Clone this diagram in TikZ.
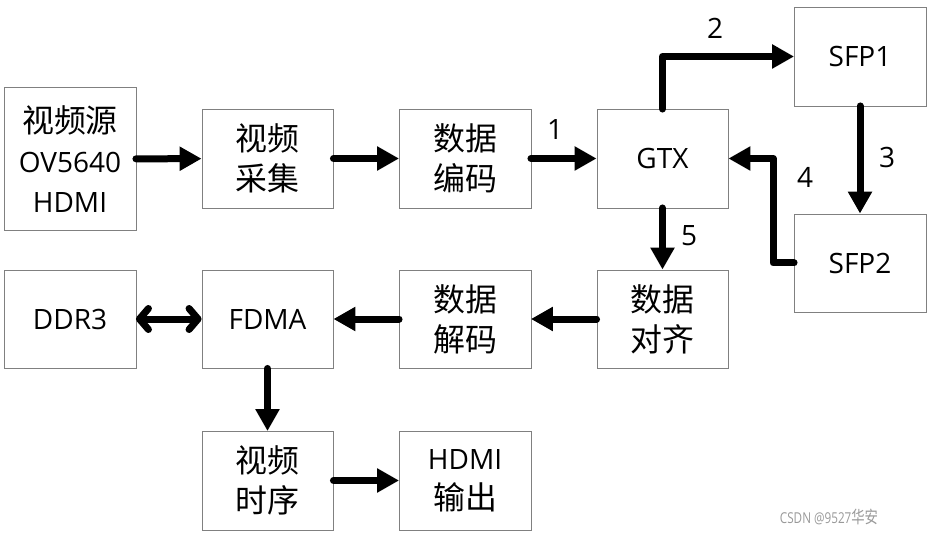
\documentclass[tikz,border=0pt]{standalone}
\usepackage{fontspec}
\setmainfont{Open Sans}
\newfontfamily\cjk[Scale=1.14]{Noto Sans CJK SC}
\newcommand{\zh}[1]{{\cjk #1}}
\usepackage{tikz}
\usetikzlibrary{positioning,arrows.meta}

\begin{document}
\begin{tikzpicture}[
            x=1pt, y=-1pt,
            font=\fontsize{28}{40}\selectfont,
            block/.style={rectangle, draw=black!50, thin, align=center, inner sep=0pt, minimum width=131.5pt, minimum height=98.5pt},
            flow/.style={line width=7pt, line cap=round, line join=round, -{Triangle[length=22pt, width=23pt]}},
            both/.style={line width=7pt, line cap=round, {Straight Barb[length=9pt, width=21pt, line cap=round, line join=round]}-{Straight Barb[length=9pt, width=21pt, line cap=round, line join=round]}}
        ]
            \useasboundingbox (0,0) rectangle (928,534);
            \begin{scope}[
                every node/.style={block}
            ]
                % Blocks
                \node[minimum height=143pt] (src) at (70, 159) {\zh{视频源}\\OV5640\\HDMI};
                \node (cap) at (267.5, 158.5) {\zh{视频}\\\zh{采集}};
                \node (enc) at (465, 158.5) {\zh{数据}\\\zh{编码}};
                \node (gtx) at (662.5, 158.5) {GTX};
                \node (sfp1) at (860, 56.5) {SFP1};
                \node (sfp2) at (860, 263) {SFP2};
                \node (ddr) at (70, 319) {DDR3};
                \node (fdma) at (267.5, 319) {FDMA};
                \node (dec) at (465, 319) {\zh{数据}\\\zh{解码}};
                \node (ali) at (662.5, 319) {\zh{数据}\\\zh{对齐}};
                \node (tim) at (267.5, 480.5) {\zh{视频}\\\zh{时序}};
                \node (out) at (465, 480.5) {HDMI\\\zh{输出}};
            \end{scope}
            % Edges
            \draw[flow] (src) -- (cap);
            \draw[flow] (cap) -- (enc);
            \draw[flow] (enc) -- (gtx); % 1
            \draw[flow] (gtx.north) |- (sfp1.west); % 2
            \draw[flow] (sfp1) -- (sfp2); % 3
            \draw[flow] (sfp2.west) -- ++(-21,0) |- (gtx.east); % 4
            \draw[flow] (gtx) -- (ali); % 5
            \draw[flow] (ali) -- (dec);
            \draw[flow] (dec) -- (fdma);
            \draw[both] (ddr) -- (fdma);
            \draw[flow] (fdma) -- (tim);
            \draw[flow] (tim) -- (out);
            % Labels
            \node (l1) at (555, 130) {1};
            \node (l2) at (715, 28) {2};
            \node (l3) at (887, 158) {3};
            \node (l4) at (805, 177) {4};
            \node (l5) at (689, 236) {5};
            \node[text=black!40, font=\fontsize{15}{15}\selectfont] (mark) at (829, 517) {\scalebox{0.78}[1]{CSDN @9527\zh{华安}}};
        \end{tikzpicture}
\end{document}
